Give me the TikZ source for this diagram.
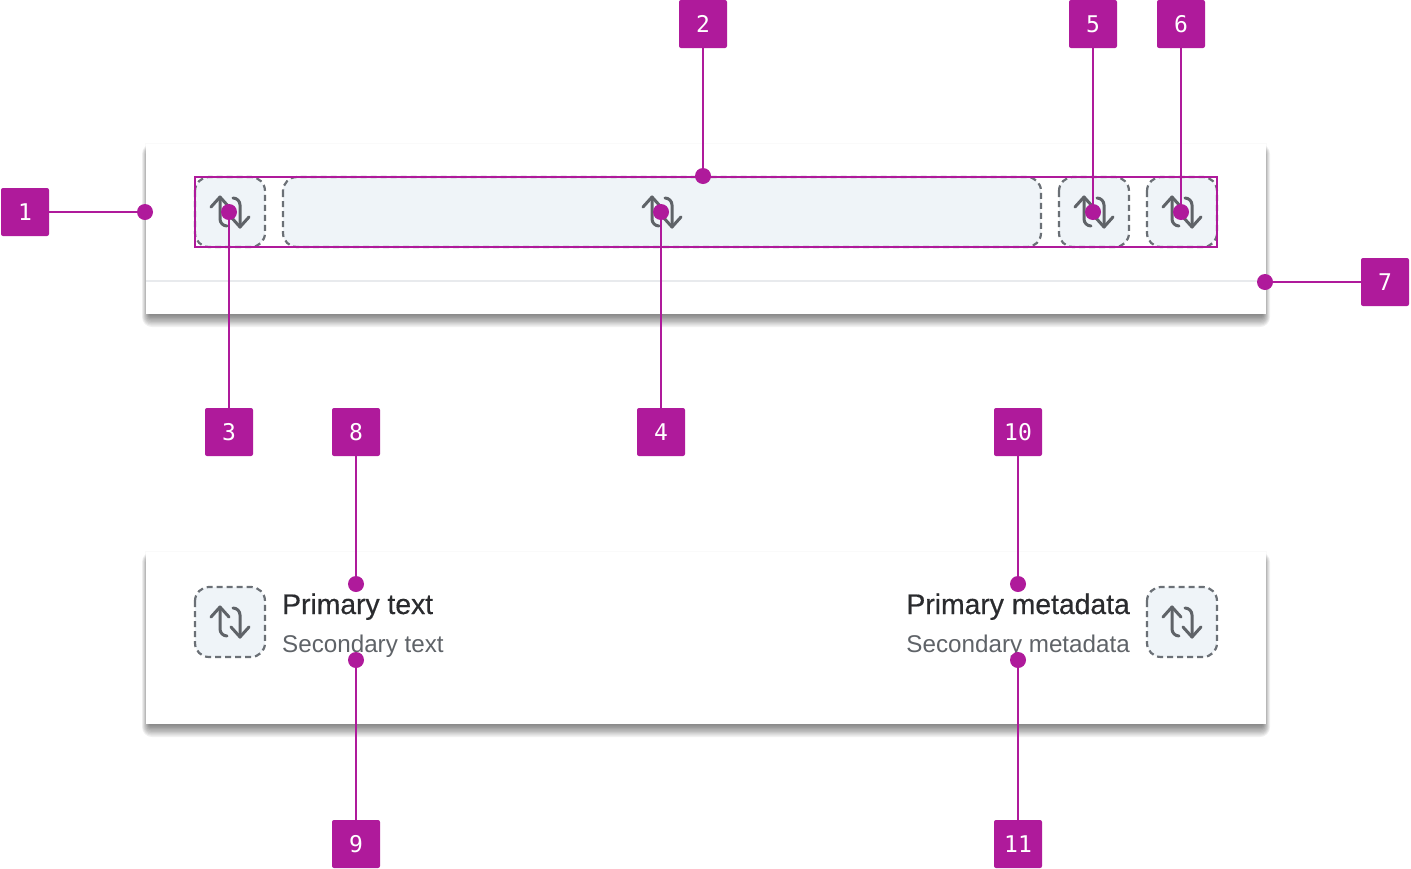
\documentclass[tikz,border=0pt]{standalone}
\usepackage{fontspec}
\setmainfont{Liberation Sans}
\setmonofont{DejaVu Sans Mono}
\definecolor{callpurple}{HTML}{AF1A9B}
\definecolor{slotfill}{HTML}{EFF4F8}
\definecolor{slotgrey}{HTML}{6B7076}
\definecolor{icongrey}{HTML}{5F6368}
\definecolor{dividergrey}{HTML}{E8EAED}
\definecolor{inktext}{HTML}{2A2B2E}
\tikzset{
  callbox/.style={fill=callpurple,text=white,rounded corners=2pt,minimum size=48pt,inner sep=0pt,font=\ttfamily\fontsize{23}{23}\selectfont},
  calldot/.style={circle,fill=callpurple,minimum size=16pt,inner sep=0pt},
  callline/.style={draw=callpurple,line width=2.6pt},
  slotbox/.style={fill=slotfill,draw=slotgrey,line width=2.2pt,dash pattern=on 6pt off 4pt,rounded corners=14pt},
  primarylabel/.style={text=inktext,inner sep=0pt,font=\fontsize{28.3}{30}\selectfont\addfontfeature{FakeBold=0.5}},
  secondarylabel/.style={text=icongrey,inner sep=0pt,font=\fontsize{24.2}{28}\selectfont},
  swaparrow/.style={draw=icongrey,line width=3pt,line cap=round,line join=round}
}
\newcommand{\swapicon}[2]{
  \begin{scope}[shift={(#1,#2)}]
    \draw[swaparrow] (-19,-5) -- (-10,-15) -- (-1,-5);
    \draw[swaparrow] (-10,-15) -- (-10,7) arc (180:90:7) -- (-3,14);
    \draw[swaparrow] (1,5) -- (10,15) -- (19,5);
    \draw[swaparrow] (10,15) -- (10,-7) arc (0:-90:7) -- (3,-14);
  \end{scope}
}
\newcommand{\cardshadow}[4]{
  \fill[black,opacity=0.02] (#1-1,#2-1) rectangle (#3+1,#4);
  \foreach \s in {1,...,10} {
    \fill[black,opacity=0.06,rounded corners=\s pt] (#1+4-\s*0.8,#2+10-\s) rectangle (#3-4+\s*0.8,#4+\s*1.3);
  }
  \fill[white] (#1,#2) rectangle (#3,#4);
}
\begin{document}
\begin{tikzpicture}[x=1pt,y=-1pt]
  \useasboundingbox (0,0) rectangle (1411,868);
  % the two cards
  \cardshadow{146}{144}{1266}{314}
  \cardshadow{146}{552}{1266}{724}
  \draw[dividergrey,line width=2pt] (146,281) -- (1266,281);
  % top row of slots
  \draw[slotbox] (195,177) rectangle (265,247);
  \draw[slotbox] (283,177) rectangle (1041,247);
  \draw[slotbox] (1059,177) rectangle (1129,247);
  \draw[slotbox] (1147,177) rectangle (1217,247);
  \swapicon{230}{212}
  \swapicon{662}{212}
  \swapicon{1094}{212}
  \swapicon{1182}{212}
  \draw[callline] (195,177) rectangle (1217,247);
  % lower card
  \draw[slotbox] (195,587) rectangle (265,657);
  \draw[slotbox] (1147,587) rectangle (1217,657);
  \swapicon{230}{622}
  \swapicon{1182}{622}
  \node[primarylabel,anchor=base west] (primarytext) at (282,614) {Primary text};
  \node[secondarylabel,anchor=base west] (secondarytext) at (282,652) {Secondary text};
  \node[primarylabel,anchor=base east] (primarymeta) at (1130,614) {Primary metadata};
  \node[secondarylabel,anchor=base east] (secondarymeta) at (1130,652) {Secondary metadata};
  % targets
  \node[calldot] (dot1) at (145,212) {};
  \node[calldot] (dot2) at (703,176) {};
  \node[calldot] (dot3) at (229,212) {};
  \node[calldot] (dot4) at (661,212) {};
  \node[calldot] (dot5) at (1093,212) {};
  \node[calldot] (dot6) at (1181,212) {};
  \node[calldot] (dot7) at (1265,282) {};
  \node[calldot] (dot8) at (356,584) {};
  \node[calldot] (dot9) at (356,660) {};
  \node[calldot] (dot10) at (1018,584) {};
  \node[calldot] (dot11) at (1018,660) {};
  % numbered boxes
  \node[callbox] (call1) at (25,212) {1};
  \node[callbox] (call2) at (703,24) {2};
  \node[callbox] (call3) at (229,432) {3};
  \node[callbox] (call4) at (661,432) {4};
  \node[callbox] (call5) at (1093,24) {5};
  \node[callbox] (call6) at (1181,24) {6};
  \node[callbox] (call7) at (1385,282) {7};
  \node[callbox] (call8) at (356,432) {8};
  \node[callbox] (call9) at (356,844) {9};
  \node[callbox] (call10) at (1018,432) {10};
  \node[callbox] (call11) at (1018,844) {11};
  % leaders
  \draw[callline] (call1) -- (dot1);
  \draw[callline] (call2) -- (dot2);
  \draw[callline] (call3) -- (dot3);
  \draw[callline] (call4) -- (dot4);
  \draw[callline] (call5) -- (dot5);
  \draw[callline] (call6) -- (dot6);
  \draw[callline] (call7) -- (dot7);
  \draw[callline] (call8) -- (dot8);
  \draw[callline] (call9) -- (dot9);
  \draw[callline] (call10) -- (dot10);
  \draw[callline] (call11) -- (dot11);
\end{tikzpicture}
\end{document}
